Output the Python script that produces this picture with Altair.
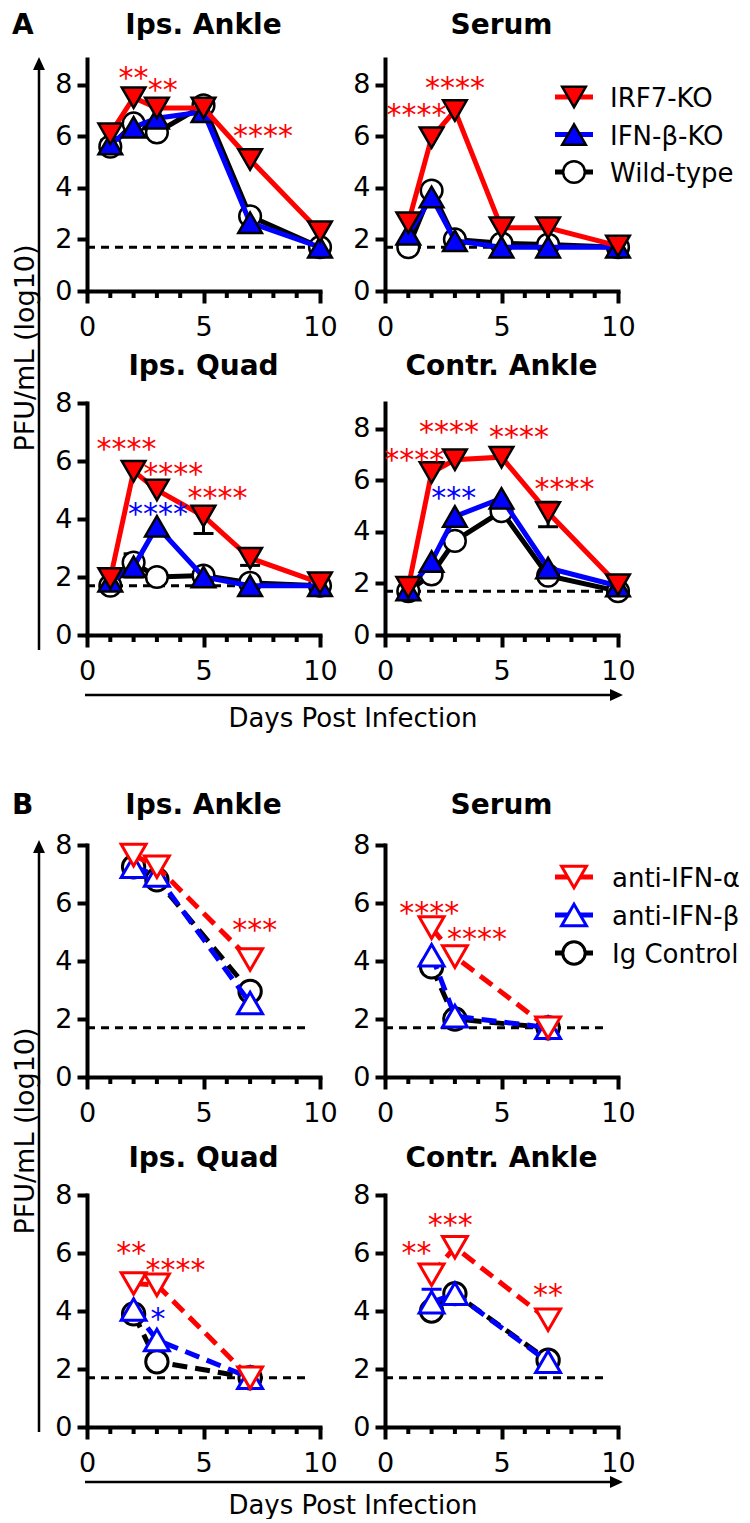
import altair as alt
import pandas as pd

FONT = "DejaVu Sans"
RED, BLUE, BLACK, WHITE = "#ff0000", "#0000ff", "#000000", "#ffffff"

# ---------------- data ----------------
days_A = [1, 2, 3, 5, 7, 10]
days_B = [2, 3, 7]
LOD = 1.7
minor_ticks = [1, 2, 3, 4, 6, 7, 8, 9]

series_A = ["IRF7-KO", "IFN-β-KO", "Wild-type"]       # legend order
series_B = ["anti-IFN-α", "anti-IFN-β", "Ig Control"]
titles = ["Ips. Ankle", "Serum", "Ips. Quad", "Contr. Ankle"]

A_ips_ankle = {"IRF7-KO": [6.1, 7.5, 7.1, 7.1, 5.1, 2.3],
               "IFN-β-KO": [5.7, 6.35, 6.7, 6.95, 2.65, 1.7],
               "Wild-type": [5.6, 6.5, 6.15, 7.2, 2.9, 1.7]}
A_serum = {"IRF7-KO": [2.65, 5.95, 7.0, 2.45, 2.45, 1.75],
           "IFN-β-KO": [2.2, 3.65, 1.95, 1.7, 1.7, 1.7],
           "Wild-type": [1.7, 3.9, 2.0, 1.85, 1.8, 1.7]}
A_ips_quad = {"IRF7-KO": [1.95, 5.65, 5.0, 4.1, 2.65, 1.8],
              "IFN-β-KO": [1.85, 2.35, 3.75, 2.0, 1.7, 1.7],
              "Wild-type": [1.7, 2.5, 2.0, 2.05, 1.8, 1.7]}
A_contr_ankle = {"IRF7-KO": [1.85, 6.3, 6.8, 6.9, 4.75, 1.95],
                 "IFN-β-KO": [1.75, 2.85, 4.6, 5.3, 2.6, 1.9],
                 "Wild-type": [1.7, 2.35, 3.65, 4.8, 2.3, 1.7]}

B_ips_ankle = {"anti-IFN-α": [7.65, 7.25, 4.05],
               "anti-IFN-β": [7.25, 6.95, 2.55],
               "Ig Control": [7.25, 6.8, 2.95]}
B_serum = {"anti-IFN-α": [5.15, 4.15, 1.7],
           "anti-IFN-β": [4.2, 2.1, 1.7],
           "Ig Control": [3.8, 2.0, 1.7]}
B_ips_quad = {"anti-IFN-α": [4.95, 4.9, 1.7],
              "anti-IFN-β": [4.05, 3.0, 1.7],
              "Ig Control": [3.9, 2.25, 1.7]}
B_contr_ankle = {"anti-IFN-α": [5.25, 6.2, 3.7],
                 "anti-IFN-β": [4.3, 4.6, 2.25],
                 "Ig Control": [4.0, 4.6, 2.3]}

# significance stars: (day, y, text, compared group)
stars_A1 = [(2.0, 8.55, "**", "IRF7-KO"), (3.25, 8.05, "**", "IRF7-KO"), (7.55, 6.3, "****", "IRF7-KO")]
stars_A2 = [(3.0, 8.15, "****", "IRF7-KO"), (1.35, 7.1, "****", "IRF7-KO")]
stars_A3 = [(1.7, 6.65, "****", "IRF7-KO"), (3.7, 5.8, "****", "IRF7-KO"),
            (5.6, 4.95, "****", "IRF7-KO"), (3.05, 4.4, "****", "IFN-β-KO")]
stars_A4 = [(1.25, 7.05, "****", "IRF7-KO"), (2.75, 8.15, "****", "IRF7-KO"),
            (5.75, 7.95, "****", "IRF7-KO"), (7.7, 5.95, "****", "IRF7-KO"),
            (2.95, 5.6, "***", "IFN-β-KO")]
stars_B1 = [(7.2, 5.3, "***", "anti-IFN-α")]
stars_B2 = [(1.9, 5.9, "****", "anti-IFN-α"), (3.95, 5.0, "****", "anti-IFN-α")]
stars_B3 = [(1.9, 6.25, "**", "anti-IFN-α"), (3.8, 5.65, "****", "anti-IFN-α"),
            (3.05, 3.95, "*", "anti-IFN-β")]
stars_B4 = [(1.35, 6.25, "**", "anti-IFN-α"), (2.8, 7.2, "***", "anti-IFN-α"),
            (7.0, 4.8, "**", "anti-IFN-α")]

# error bars: (series, day, low, high)
err_A1 = [("Wild-type", 1, 5.35, 5.85)]
err_A3 = [("IRF7-KO", 5, 3.5, 4.4), ("IRF7-KO", 7, 2.4, 2.9), ("IFN-β-KO", 2, 2.0, 2.8)]
err_A4 = [("IRF7-KO", 7, 4.2, 5.15)]
err_B4 = [("anti-IFN-β", 2, 3.95, 4.75)]

# ---------------- styling ----------------
W, H = 233, 232
ALL_SERIES = series_A + series_B
color_scale = alt.Scale(domain=ALL_SERIES, range=[RED, BLUE, BLACK, RED, BLUE, BLACK])
shape_scale = alt.Scale(domain=ALL_SERIES,
                        range=["triangle-down", "triangle-up", "circle"] * 2)
fill_scale = alt.Scale(domain=series_A, range=[RED, BLUE, WHITE])
ARROW_UP = "M0,-1L0.92,1L-0.92,1Z"
ARROW_RIGHT = "M1,0L-1,0.92L-1,-0.92Z"


def point_chart(kind, s, data):
    circle = s in ("Wild-type", "Ig Control")
    if kind == "A":
        return alt.Chart(data).mark_point(
            filled=True, size=470 if circle else 560, strokeWidth=2.5, opacity=1
        ).encode(shape=alt.Shape("series:N", scale=shape_scale, legend=None),
                 fill=alt.Fill("series:N", scale=fill_scale, legend=None),
                 stroke=alt.value(BLACK))
    return alt.Chart(data).mark_point(
        filled=True, size=500 if circle else 620, strokeWidth=3, opacity=1
    ).encode(shape=alt.Shape("series:N", scale=shape_scale, legend=None),
             fill=alt.value(WHITE),
             stroke=alt.Stroke("series:N", scale=color_scale, legend=None))


def legend_layers(kind, y0, dy, text_x):
    labels = series_A if kind == "A" else series_B
    ldf = pd.DataFrame({"series": labels, "k": list(range(len(labels)))})
    calc = f"{y0} + {dy} * datum.k"
    LY = alt.Y("ly:Q", scale=None)
    dash = {} if kind == "A" else {"strokeDash": [15, 8]}
    out = [alt.Chart(ldf).transform_calculate(ly=calc).mark_rule(strokeWidth=5, **dash).encode(
        x=alt.value(170), x2=alt.value(208), y=LY,
        color=alt.Color("series:N", scale=color_scale, legend=None))]
    for s in labels:
        out.append(point_chart(kind, s, ldf[ldf.series == s]).transform_calculate(ly=calc)
                   .encode(x=alt.value(189), y=LY))
    out.append(alt.Chart(ldf).transform_calculate(ly=calc).mark_text(
        font=FONT, fontSize=26, align="left", baseline="middle", dy=2, color=BLACK).encode(
        x=alt.value(text_x), y=LY, text="series:N"))
    return out


def one_row():
    return pd.DataFrame({"z": [0]})


def y_arrow(tip, bottom, label_y, letter, letter_y):
    return [
        alt.Chart(one_row()).mark_rule(color=BLACK, strokeWidth=2.5).encode(
            x=alt.value(-48), y=alt.value(tip + 9), y2=alt.value(bottom)),
        alt.Chart(one_row()).mark_point(shape=ARROW_UP, size=169, filled=True,
                                        color=BLACK, opacity=1, strokeWidth=0).encode(
            x=alt.value(-48), y=alt.value(tip + 6.5)),
        alt.Chart(pd.DataFrame({"t": ["PFU/mL (log10)"]})).mark_text(
            font=FONT, fontSize=27, angle=270, align="center", baseline="middle",
            color=BLACK).encode(x=alt.value(-61), y=alt.value(label_y), text="t:N"),
        alt.Chart(pd.DataFrame({"t": [letter]})).mark_text(
            font=FONT, fontSize=28, fontWeight="bold", align="left", baseline="alphabetic",
            color=BLACK).encode(x=alt.value(-75), y=alt.value(letter_y), text="t:N"),
    ]


def x_arrow(line_y, text_y):
    tip = 536
    return [
        alt.Chart(one_row()).mark_rule(color=BLACK, strokeWidth=2.5).encode(
            x=alt.value(-2), x2=alt.value(tip - 9), y=alt.value(line_y)),
        alt.Chart(one_row()).mark_point(shape=ARROW_RIGHT, size=169, filled=True,
                                        color=BLACK, opacity=1, strokeWidth=0).encode(
            x=alt.value(tip - 6.5), y=alt.value(line_y)),
        alt.Chart(pd.DataFrame({"t": ["Days Post Infection"]})).mark_text(
            font=FONT, fontSize=26, align="center", baseline="middle", dy=2,
            color=BLACK).encode(x=alt.value(266), y=alt.value(text_y), text="t:N"),
    ]


def panel(kind, title, vals, ymax, stars, errs, title_y, extras=()):
    days = days_A if kind == "A" else days_B
    order = list(reversed(series_A if kind == "A" else series_B))  # black, blue, red
    xs = alt.Scale(domain=[0, 10], nice=False, zero=False)
    ys = alt.Scale(domain=[0, ymax], nice=False, zero=False)
    xax = alt.Axis(values=[0, 5, 10], tickSize=12, labelPadding=11, title=None,
                   labelFlush=False, labelOverlap=False)
    yax = alt.Axis(values=[0, 2, 4, 6, 8], tickSize=10, labelPadding=5, title=None,
                   labelFlush=False, labelOverlap=False)

    def X(f):
        return alt.X(f, scale=xs, axis=xax)

    def Y(f):
        return alt.Y(f, scale=ys, axis=yax)

    layers = []
    lod_df = pd.DataFrame({"x0": [0.0], "x1": [9.6], "lod": [LOD]})
    layers.append(alt.Chart(lod_df).mark_rule(color=BLACK, strokeWidth=3, strokeDash=[8, 6])
                  .encode(x=X("x0:Q"), x2="x1:Q", y=Y("lod:Q")))
    if errs:
        edf = pd.DataFrame(errs, columns=["series", "day", "lo", "hi"])
        ec = alt.value(BLACK) if kind == "A" else alt.Color("series:N", scale=color_scale, legend=None)
        layers.append(alt.Chart(edf).mark_rule(strokeWidth=3).encode(
            x=X("day:Q"), y=Y("lo:Q"), y2="hi:Q", color=ec))
        layers.append(alt.Chart(edf).transform_fold(["lo", "hi"], as_=["end", "v"]).mark_point(
            shape="M-1,0L1,0", size=400, strokeWidth=3, opacity=1).encode(
            x=X("day:Q"), y=Y("v:Q"), color=ec))
    for s in order:
        sdf = pd.DataFrame({"day": days, "value": vals[s], "series": s})
        kw = {"strokeWidth": 5}
        if kind == "B":
            kw["strokeDash"] = [15, 8]
        layers.append(alt.Chart(sdf).mark_line(**kw).encode(
            x=X("day:Q"), y=Y("value:Q"),
            color=alt.Color("series:N", scale=color_scale, legend=None)))
        layers.append(point_chart(kind, s, sdf).encode(x=X("day:Q"), y=Y("value:Q")))
    stdf = pd.DataFrame(stars, columns=["day", "y", "txt", "vs"])
    layers.append(alt.Chart(stdf).mark_text(font=FONT, fontSize=30, align="center",
                                            baseline="middle", dy=8).encode(
        x=X("day:Q"), y=Y("y:Q"), text="txt:N",
        color=alt.Color("vs:N", scale=color_scale, legend=None)))
    mdf = pd.DataFrame({"d": minor_ticks})
    layers.append(alt.Chart(mdf).mark_rule(color=BLACK, strokeWidth=4).encode(
        x=X("d:Q"), y=alt.value(H), y2=alt.value(H + 7)))
    layers.append(alt.Chart(pd.DataFrame({"t": [title]})).mark_text(
        font=FONT, fontSize=28, fontWeight="bold", align="center", baseline="alphabetic",
        color=BLACK).encode(x=alt.value(W / 2), y=alt.value(title_y), text="t:N"))
    layers.extend(extras)
    return alt.layer(*layers).properties(width=W, height=H)


def spacer(h):
    return alt.Chart(one_row()).mark_point(opacity=0).encode(
        x=alt.value(0), y=alt.value(0)).properties(width=1, height=h)


A1 = panel("A", titles[0], A_ips_ankle, 9, stars_A1, err_A1, -25,
           y_arrow(-2, 591, 289, "A", -25))
A2 = panel("A", titles[1], A_serum, 9, stars_A2, [], -25, legend_layers("A", 38, 37.5, 225))
A3 = panel("A", titles[2], A_ips_quad, 8, stars_A3, err_A3, -28, x_arrow(292, 314))
A4 = panel("A", titles[3], A_contr_ankle, 9, stars_A4, err_A4, -28)
B1 = panel("B", titles[0], B_ips_ankle, 8, stars_B1, [], -31,
           y_arrow(-5, 587, 286, "B", -31))
B2 = panel("B", titles[1], B_serum, 8, stars_B2, [], -31, legend_layers("B", 32, 38, 227))
B3 = panel("B", titles[2], B_ips_quad, 8, stars_B3, [], -28, x_arrow(287, 309))
B4 = panel("B", titles[3], B_contr_ankle, 8, stars_B4, err_B4, -28)

cells = [A1, A2, spacer(112), spacer(112), A3, A4, spacer(210), spacer(210),
         B1, B2, spacer(118), spacer(118), B3, B4]

chart = alt.concat(
    *cells, columns=2, align="each", bounds="flush",
    spacing={"row": 0, "column": 65},
    padding={"left": 4, "top": 4, "right": 0, "bottom": 0},
).resolve_scale(
    x="independent", y="independent"
).configure(font=FONT).configure_view(stroke=None).configure_axis(
    grid=False, domainColor=BLACK, domainWidth=4, domainCap="square",
    tickColor=BLACK, tickWidth=4, labelFont=FONT, labelFontSize=27, labelColor=BLACK,
)

chart.save("out.html", embed_options={"renderer": "svg", "actions": False})
